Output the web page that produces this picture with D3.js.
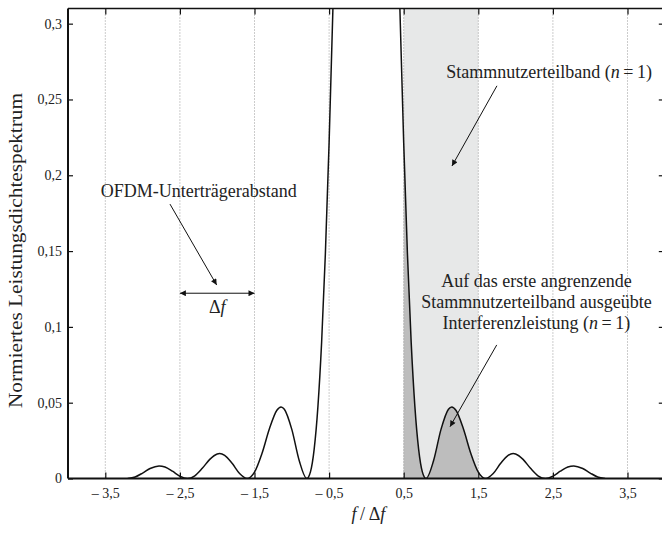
<!DOCTYPE html>
<html>
<head>
<meta charset="utf-8">
<script src="https://cdn.jsdelivr.net/npm/d3@7/dist/d3.min.js"></script>
<style>
  html, body { margin: 0; padding: 0; background: #fff; }
  svg { display: block; }
  text { font-family: "Liberation Serif", "Times New Roman", serif; fill: #222; }
</style>
</head>
<body>
<svg id="chart" width="662" height="535"></svg>
<script>
// Normalised power spectral density of one OFDM subcarrier over f/Δf
const frequency = [
  -3.2, -3.1, -3.0, -2.9, -2.78, -2.7, -2.6, -2.5, -2.4, -2.3, -2.2, -2.1, -2.0, -1.967,
  -1.9, -1.8, -1.7, -1.6, -1.5, -1.4, -1.3, -1.2, -1.144, -1.1, -1.0, -0.9, -0.8, -0.75,
  -0.7, -0.65, -0.6, -0.55, -0.5, -0.45, -0.4, -0.3, -0.2, -0.1,
  0,
  0.1, 0.2, 0.3, 0.4, 0.45, 0.5, 0.55, 0.6, 0.65, 0.7, 0.75, 0.8, 0.9, 1.0, 1.1, 1.144,
  1.2, 1.3, 1.4, 1.5, 1.6, 1.7, 1.8, 1.9, 1.967, 2.0, 2.1, 2.2, 2.3, 2.4, 2.5, 2.6, 2.7,
  2.78, 2.9, 3.0, 3.1, 3.2
];
const density = [
  0, 0.0010, 0.0036, 0.0066, 0.0083, 0.0076, 0.0048, 0.0015, 0, 0.0018, 0.0067, 0.0126, 0.0162, 0.0165,
  0.0153, 0.0100, 0.0033, 0, 0.0042, 0.0165, 0.0328, 0.0450, 0.0472, 0.0457, 0.0324, 0.0117, 0, 0.0044,
  0.0194, 0.0474, 0.0901, 0.1482, 0.2214, 0.3080, 0.4053, 0.6150, 0.8106, 0.9496,
  1,
  0.9496, 0.8106, 0.6150, 0.4053, 0.3080, 0.2214, 0.1482, 0.0901, 0.0474, 0.0194, 0.0044, 0, 0.0117, 0.0324, 0.0457, 0.0472,
  0.0450, 0.0328, 0.0165, 0.0042, 0, 0.0033, 0.0100, 0.0153, 0.0165, 0.0162, 0.0126, 0.0067, 0.0018, 0, 0.0015, 0.0048, 0.0076,
  0.0083, 0.0066, 0.0036, 0.0010, 0
];
const xTicks = [-3.5, -2.5, -1.5, -0.5, 0.5, 1.5, 2.5, 3.5];
const yTicks = [0, 0.05, 0.1, 0.15, 0.2, 0.25, 0.3];
const band = [0.5, 1.5];          // first adjacent subband (n = 1)
const spacing = [-2.5, -1.5];     // one subcarrier spacing Δf

const points = frequency.map((f, i) => ({ f, p: density[i] }));

const svg = d3.select("#chart");
const x = d3.scaleLinear().domain([-4, 4]).range([68, 664.8]);
const y = d3.scaleLinear().domain([0, 0.31]).range([478.5, 8.5]);
const [x0, x1] = x.range();
const [yb, yt] = y.range();

const fmt = v => {
  const s = String(Math.abs(v)).replace(".", ",");
  return v < 0 ? "\u2013 " + s : s;
};

const defs = svg.append("defs");
defs.append("clipPath").attr("id", "plot")
  .append("rect").attr("x", x0).attr("y", yt).attr("width", x1 - x0).attr("height", yb - yt);
defs.append("clipPath").attr("id", "bandclip")
  .append("rect").attr("x", x(band[0])).attr("y", yt)
  .attr("width", x(band[1]) - x(band[0])).attr("height", yb - yt);
defs.append("marker").attr("id", "head")
  .attr("viewBox", "0 0 10 10").attr("refX", 10).attr("refY", 5)
  .attr("markerWidth", 9).attr("markerHeight", 6).attr("markerUnits", "userSpaceOnUse")
  .attr("orient", "auto-start-reverse")
  .append("path").attr("d", "M0,0 L10,5 L0,10 Z").attr("fill", "#111");

// subband shading
svg.append("rect")
  .attr("x", x(band[0])).attr("y", yt)
  .attr("width", x(band[1]) - x(band[0])).attr("height", yb - yt)
  .attr("fill", "#e7e8e8");

// interference power falling into the adjacent subband
const area = d3.area().curve(d3.curveMonotoneX)
  .x(d => x(d.f)).y0(y(0)).y1(d => y(d.p));
svg.append("g").attr("clip-path", "url(#plot)")
  .append("path").datum(points)
  .attr("clip-path", "url(#bandclip)")
  .attr("d", area).attr("fill", "#bdbdbd");

// vertical dotted grid
svg.append("g").selectAll("line").data(xTicks).join("line")
  .attr("x1", d => x(d)).attr("x2", d => x(d))
  .attr("y1", yt).attr("y2", yb)
  .attr("stroke", "#999").attr("stroke-width", 1).attr("stroke-dasharray", "1,2");

// spectrum curve
const line = d3.line().curve(d3.curveMonotoneX).x(d => x(d.f)).y(d => y(d.p));
svg.append("g").attr("clip-path", "url(#plot)")
  .append("path").datum(points)
  .attr("d", line).attr("fill", "none").attr("stroke", "#111").attr("stroke-width", 1.5);

// axes with inward ticks
const styleAxis = g => {
  g.select(".domain").remove();
  g.selectAll(".tick line").attr("stroke", "#111").attr("stroke-width", 1.2);
  g.selectAll(".tick text").style("font-size", "14px")
    .style("font-family", "'Liberation Serif', 'Times New Roman', serif").attr("fill", "#333");
};
svg.append("g").attr("transform", `translate(0,${yb})`)
  .call(d3.axisBottom(x).tickValues(xTicks).tickFormat(fmt).tickSize(-6).tickSizeOuter(0).tickPadding(10))
  .call(styleAxis);
svg.append("g").attr("transform", `translate(0,${yt})`)
  .call(d3.axisTop(x).tickValues(xTicks).tickFormat("").tickSize(-6).tickSizeOuter(0))
  .call(styleAxis);
svg.append("g").attr("transform", `translate(${x0},0)`)
  .call(d3.axisLeft(y).tickValues(yTicks).tickFormat(fmt).tickSize(-5).tickSizeOuter(0).tickPadding(6))
  .call(styleAxis);
svg.append("g").attr("transform", `translate(${x1},0)`)
  .call(d3.axisRight(y).tickValues(yTicks).tickFormat("").tickSize(-6).tickSizeOuter(0))
  .call(styleAxis);

// frame
svg.append("line").attr("x1", x0).attr("x2", x1).attr("y1", yt).attr("y2", yt)
  .attr("stroke", "#111").attr("stroke-width", 1.3);
svg.append("line").attr("x1", x0).attr("x2", x1).attr("y1", yb).attr("y2", yb)
  .attr("stroke", "#111").attr("stroke-width", 2);
svg.append("line").attr("x1", x0).attr("x2", x0).attr("y1", yt).attr("y2", yb)
  .attr("stroke", "#111").attr("stroke-width", 2);
svg.append("line").attr("x1", x1).attr("x2", x1).attr("y1", yt).attr("y2", yb)
  .attr("stroke", "#111").attr("stroke-width", 1.3);

// axis titles
svg.append("text")
  .attr("transform", `translate(22,250.5) rotate(-90)`)
  .attr("text-anchor", "middle").style("font-size", "18px")
  .attr("textLength", 315).attr("lengthAdjust", "spacingAndGlyphs")
  .text("Normiertes Leistungsdichtespektrum");

const xt = svg.append("text")
  .attr("x", x(0) + 2).attr("y", 520).attr("text-anchor", "middle").style("font-size", "18px");
xt.append("tspan").style("font-style", "italic").text("f");
xt.append("tspan").text("\u2009/\u2009\u0394");
xt.append("tspan").style("font-style", "italic").text("f");

// annotations
const arrow = (a, b, both) => svg.append("line")
  .attr("x1", x(a[0])).attr("y1", y(a[1])).attr("x2", x(b[0])).attr("y2", y(b[1]))
  .attr("stroke", "#111").attr("stroke-width", 1)
  .attr("marker-end", "url(#head)")
  .attr("marker-start", both ? "url(#head)" : null);

const nEq1 = t => {
  t.append("tspan").text(" (");
  t.append("tspan").style("font-style", "italic").text("n");
  t.append("tspan").text("\u2009=\u20091)");
};

const t1 = svg.append("text").attr("x", x(2.45)).attr("y", y(0.2642))
  .attr("text-anchor", "middle").style("font-size", "18px");
t1.append("tspan").text("Stammnutzerteilband");
nEq1(t1);
arrow([1.75, 0.2590], [1.147, 0.2061]);

svg.append("text").attr("x", x(-3.56)).attr("y", y(0.1859))
  .style("font-size", "18px").text("OFDM-Unterträgerabstand");
arrow([-2.633, 0.1810], [-2.007, 0.1276]);

arrow([spacing[0], 0.1222], [spacing[1], 0.1222], true);
const df = svg.append("text").attr("x", x((spacing[0] + spacing[1]) / 2)).attr("y", y(0.1092))
  .attr("text-anchor", "middle").style("font-size", "18px");
df.append("tspan").text("\u0394");
df.append("tspan").style("font-style", "italic").text("f");

const lines = ["Auf das erste angrenzende", "Stammnutzerteilband ausgeübte", "Interferenzleistung"];
const lineY = [0.1263, 0.1124, 0.0985];
lines.forEach((s, i) => {
  const t = svg.append("text").attr("x", x(2.28)).attr("y", y(lineY[i]))
    .attr("text-anchor", "middle").style("font-size", "18px");
  t.append("tspan").text(s);
  if (i === 2) nEq1(t);
});
arrow([1.747, 0.0881], [1.121, 0.0342]);
</script>
</body>
</html>
